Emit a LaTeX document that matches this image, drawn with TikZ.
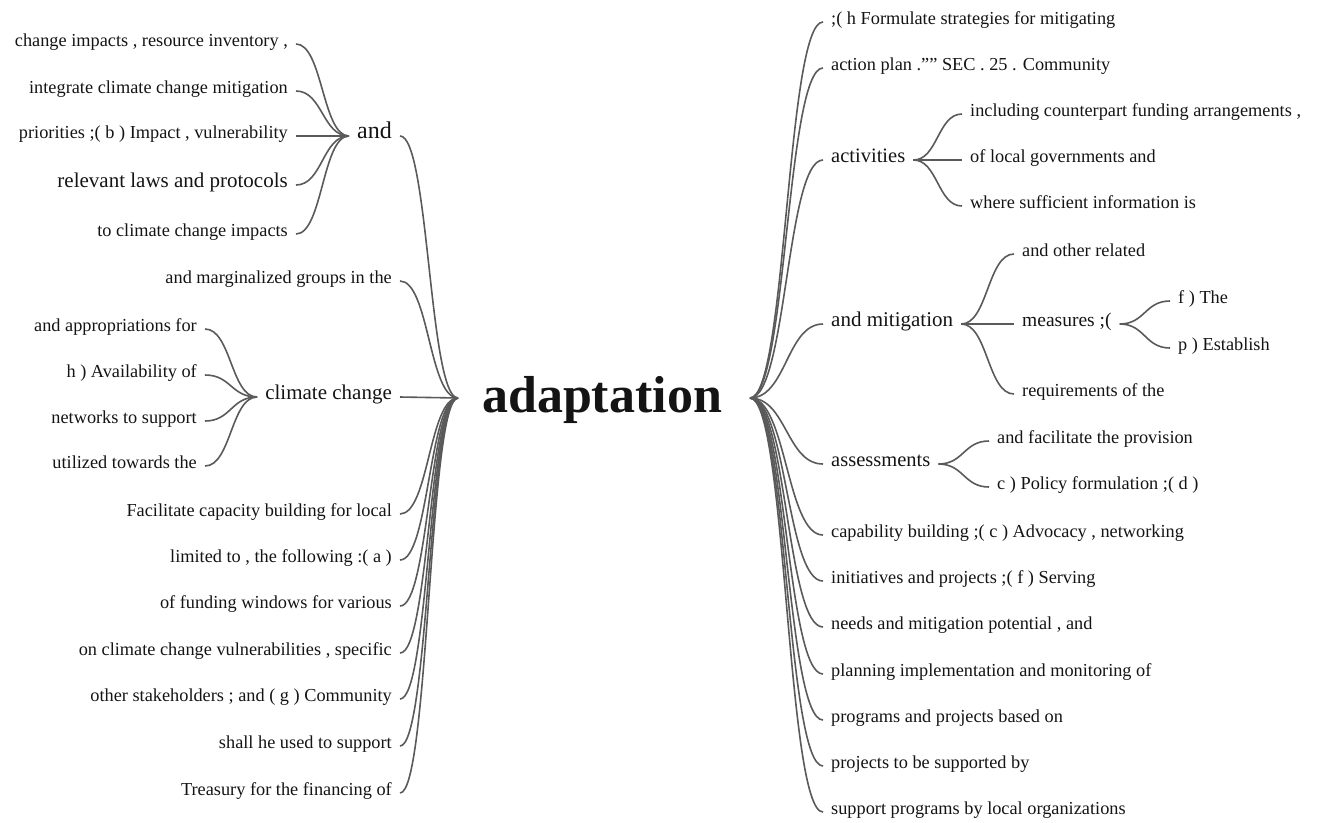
\documentclass[tikz,border=0pt]{standalone}
\usepackage{fontspec}
\setmainfont{Liberation Serif}
\usepackage{tikz}
\usetikzlibrary{calc}
\definecolor{ink}{HTML}{141414}
\definecolor{twig}{HTML}{5A5A5A}
\tikzset{>=latex}
\def\leafsize{18.3}
\tikzset{
  word/.style={inner xsep=8pt, inner ysep=0pt, yshift=-4pt, text=ink, font=\fontsize{\leafsize}{20}\selectfont},
  wordL/.style={word, anchor=mid east},
  wordR/.style={word, anchor=mid west},
  branch/.style={draw=twig, line width=1.6pt,
    to path={let \p1=(\tikztostart), \p2=(\tikztotarget) in
      .. controls ({(\x1+\x2)/2},\y1) and ({(\x1+\x2)/2},\y2) .. (\tikztotarget)}}
}

\begin{document}
\begin{tikzpicture}[x=1pt, y=-1pt]
   \useasboundingbox (0,0) rectangle (1329,822);

   \node[inner sep=0pt, anchor=mid, text=ink, font=\fontsize{52}{56}\selectfont\bfseries] (root) at (602,410) {adaptation};
   \coordinate (jl) at (458,398);
   \coordinate (jr) at (750,398);

   % left half
   \node[wordL, font=\fontsize{24}{26}\selectfont] (and) at (400,132) {and};
   \node[wordL] (marg) at (400,277) {and marginalized groups in the};
   \node[wordL, font=\fontsize{21}{24}\selectfont] (clim) at (400,393) {climate change};

   \foreach \txt/\y/\fs [count=\i] in {{change impacts , resource inventory ,}/40/18.3, {integrate climate change mitigation}/87/18.3,
        {priorities ;( b ) Impact , vulnerability}/132/18.3, {relevant laws and protocols}/181/21, {to climate change impacts}/230/18.3}{
        \node[wordL, font=\fontsize{\fs}{22}\selectfont] (and\i) at (296,\y) {\txt};
        \draw[branch] (and\i.mid east) to (and.mid west);
   }

   \foreach \txt/\y [count=\i] in {{and appropriations for}/325, {h ) Availability of}/371, {networks to support}/417, {utilized towards the}/462}{
        \node[wordL] (clim\i) at (205,\y) {\txt};
        \draw[branch] (clim\i.mid east) to (clim.mid west);
   }

   \foreach \txt/\y [count=\i] in {{Facilitate capacity building for local}/510, {limited to , the following :( a )}/556, {of funding windows for various}/602,
        {on climate change vulnerabilities , specific}/649, {other stakeholders ; and ( g ) Community}/695, {shall he used to support}/742, {Treasury for the financing of}/789}{
        \node[wordL] (lbot\i) at (400,\y) {\txt};
        \draw[branch] (lbot\i.mid east) to (jl);
   }

   \foreach \n in {and, marg, clim}{
        \draw[branch] (\n.mid east) to (jl);
   }

   % right half
   \node[wordR] (top1) at (823,18) {;( h Formulate strategies for mitigating};
   \node[wordR] (top2) at (823,64) {action plan .\symbol{34}\symbol{34} SEC . 25 . Community};
   \node[wordR, font=\fontsize{20.5}{24}\selectfont] (act) at (823,156) {activities};
   \node[wordR, font=\fontsize{21}{24}\selectfont] (miti) at (823,320) {and mitigation};
   \node[wordR, font=\fontsize{20.5}{24}\selectfont] (asse) at (823,460) {assessments};

   \foreach \txt/\y [count=\i] in {{including counterpart funding arrangements ,}/110, {of local governments and}/156, {where sufficient information is}/202}{
        \node[wordR] (act\i) at (962,\y) {\txt};
        \draw[branch] (act\i.mid west) to (act.mid east);
   }

   \node[wordR] (miti1) at (1014,250) {and other related};
   \node[wordR, font=\fontsize{19.5}{22}\selectfont] (meas) at (1014,320) {measures ;(};
   \node[wordR] (miti3) at (1014,390) {requirements of the};
   \foreach \n in {miti1, meas, miti3}{
        \draw[branch] (\n.mid west) to (miti.mid east);
   }

   \node[wordR] (meas1) at (1170,297) {f ) The};
   \node[wordR] (meas2) at (1170,344) {p ) Establish};
   \draw[branch] (meas.mid east) to (meas1.mid west);
   \draw[branch] (meas.mid east) to (meas2.mid west);

   \node[wordR] (asse1) at (989,437) {and facilitate the provision};
   \node[wordR] (asse2) at (989,483) {c ) Policy formulation ;( d )};
   \draw[branch] (asse.mid east) to (asse1.mid west);
   \draw[branch] (asse.mid east) to (asse2.mid west);

   \foreach \txt/\y [count=\i] in {{capability building ;( c ) Advocacy , networking}/531, {initiatives and projects ;( f ) Serving}/577,
        {needs and mitigation potential , and}/623, {planning implementation and monitoring of}/670, {programs and projects based on}/716,
        {projects to be supported by}/762, {support programs by local organizations}/808}{
        \node[wordR] (rbot\i) at (823,\y) {\txt};
        \draw[branch] (rbot\i.mid west) to (jr);
   }

   \foreach \n in {top1, top2, act, miti, asse}{
        \draw[branch] (\n.mid west) to (jr);
   }

\end{tikzpicture}
\end{document}
